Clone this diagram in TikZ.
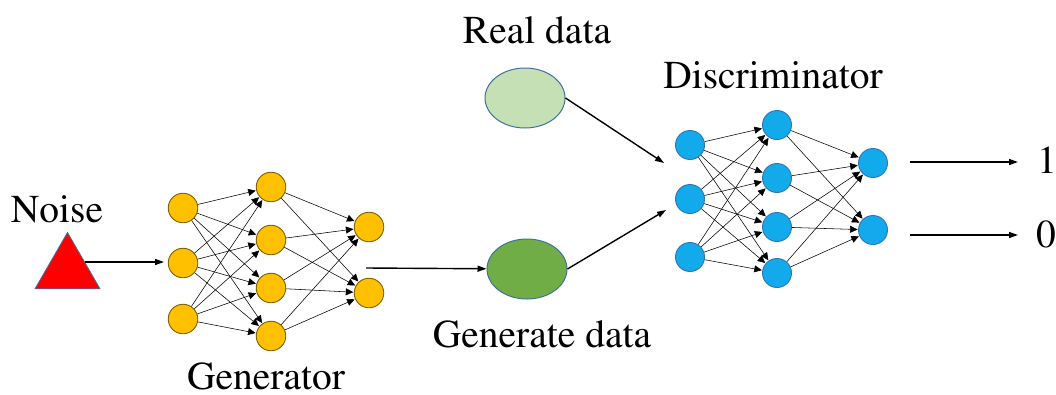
\documentclass[tikz,border=0pt]{standalone}
\usepackage[T1]{fontenc}
\renewcommand{\rmdefault}{ptm}
\usetikzlibrary{arrows.meta,shapes.geometric}

\definecolor{genfill}{HTML}{FFC000}
\definecolor{genline}{HTML}{7F6000}
\definecolor{disfill}{HTML}{12AAEB}
\definecolor{disline}{HTML}{2E75B6}
\definecolor{realfill}{HTML}{C5E0B4}
\definecolor{fakefill}{HTML}{70AD47}
\definecolor{shapeline}{HTML}{41719C}

\tikzset{
  gnode/.style={circle, draw=genline, fill=genfill, line width=0.9pt, minimum size=29.5pt, inner sep=0pt},
  dnode/.style={circle, draw=disline, fill=disfill, line width=0.9pt, minimum size=29pt, inner sep=0pt},
  link/.style={line width=0.55pt, -{Triangle[length=7.5pt,width=7pt]}, shorten >=0.5pt},
  flow/.style={line width=1.4pt, -{Triangle[length=9pt,width=6pt]}},
  datablob/.style={ellipse, draw=shapeline, line width=1pt, minimum width=80pt, minimum height=60pt, inner sep=0pt},
  txt/.style={font=\rmfamily\fontsize{39.5}{44}\selectfont, anchor=base, inner sep=0pt},
}

\begin{document}
\begin{tikzpicture}[x=1pt, y=-1pt]
  \useasboundingbox (0,0) rectangle (1056,394);

  % noise source
  \node[regular polygon, regular polygon sides=3, draw=shapeline, fill=red, line width=0.8pt,
        minimum size=75pt, inner sep=0pt, outer sep=0pt] (noise) at (67.5,270) {};
  \node[txt] (noiselbl) at (57,222) {Noise};

  % generator network
  \node[gnode] (g1a) at (183,208) {};
  \node[gnode] (g1b) at (183,263) {};
  \node[gnode] (g1c) at (183,319) {};
  \node[gnode] (g2a) at (271,187) {};
  \node[gnode] (g2b) at (271,240) {};
  \node[gnode] (g2c) at (271,288) {};
  \node[gnode] (g2d) at (271,336) {};
  \node[gnode] (g3a) at (369,227) {};
  \node[gnode] (g3b) at (369,293) {};
  \foreach \s in {g1a,g1b,g1c}
    \foreach \t in {g2a,g2b,g2c,g2d}
      \draw[link] (\s) -- (\t);
  \foreach \s in {g2a,g2b,g2c,g2d}
    \foreach \t in {g3a,g3b}
      \draw[link] (\s) -- (\t);
  \node[txt] (genlbl) at (266,389) {Generator};

  % data sources
  \node[datablob, fill=realfill] (real) at (525,98) {};
  \node[txt] (reallbl) at (537,43) {Real data};
  \node[datablob, fill=fakefill] (fake) at (527,269) {};
  \node[txt] (fakelbl) at (542,347) {Generate data};

  % discriminator network
  \node[dnode] (d1a) at (690,145) {};
  \node[dnode] (d1b) at (690,199) {};
  \node[dnode] (d1c) at (690,257) {};
  \node[dnode] (d2a) at (777,125) {};
  \node[dnode] (d2b) at (777,178) {};
  \node[dnode] (d2c) at (777,227) {};
  \node[dnode] (d2d) at (777,273) {};
  \node[dnode] (d3a) at (873,163) {};
  \node[dnode] (d3b) at (873,230) {};
  \foreach \s in {d1a,d1b,d1c}
    \foreach \t in {d2a,d2b,d2c,d2d}
      \draw[link] (\s) -- (\t);
  \foreach \s in {d2a,d2b,d2c,d2d}
    \foreach \t in {d3a,d3b}
      \draw[link] (\s) -- (\t);
  \node[txt] (dislbl) at (773,88) {Discriminator};

  % flow arrows
  \coordinate (noiseout) at (85,262);
  \coordinate (genin) at (164,262);
  \coordinate (genout) at (366,268);
  \coordinate (disinA) at (664,163);
  \coordinate (disinB) at (666,210);
  \coordinate (out1s) at (910,162);
  \coordinate (out1e) at (1018,162);
  \coordinate (out0s) at (910,235);
  \coordinate (out0e) at (1018,235);

  \draw[flow] (noiseout) -- (genin);
  \draw[flow] (genout) -- (fake);
  \draw[flow] (real.east) -- (disinA);
  \draw[flow] (fake.east) -- (disinB);
  \draw[flow] (out1s) -- (out1e);
  \draw[flow] (out0s) -- (out0e);

  % outputs
  \node[txt, anchor=base west] (one) at (1037,173) {1};
  \node[txt, anchor=base west] (zero) at (1036,247) {0};
\end{tikzpicture}
\end{document}
